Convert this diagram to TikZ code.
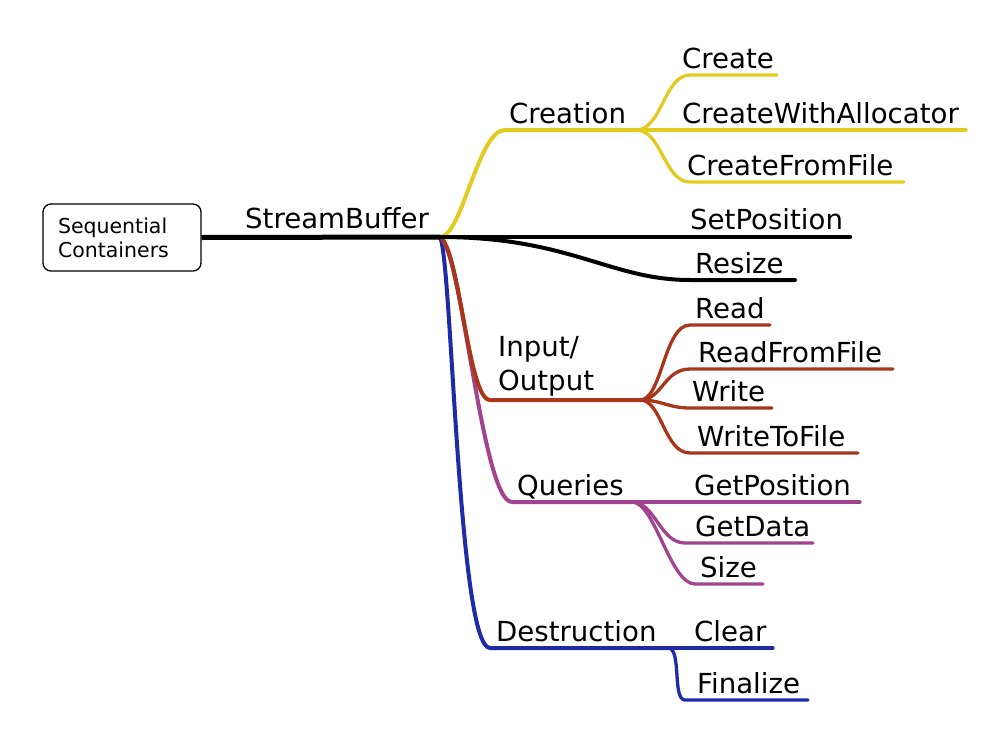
\documentclass[tikz,border=0pt]{standalone}
\usepackage{fontspec}
\setmainfont{DejaVu Sans}
\definecolor{cyel}{HTML}{E2CB1F}
\definecolor{corg}{HTML}{A8361A}
\definecolor{cpur}{HTML}{A3438F}
\definecolor{cblu}{HTML}{1E2AA6}
\begin{document}
\begin{tikzpicture}[x=1pt,y=-1pt,
  lbl/.style={anchor=base west, inner sep=0pt, font=\fontsize{27.6}{34}\selectfont},
  br/.style={line width=4pt, line cap=round},
  sub/.style={line width=3.3pt, line cap=round}]
\useasboundingbox (0,0) rectangle (1006,744);

% root box
\node[draw, rounded corners=8pt, line width=1.3pt, minimum height=67pt,
      text width=128pt, inner xsep=15pt, align=left,
      font=\fontsize{20.5}{24}\selectfont] (root) at (122,237.5) {Sequential\\Containers};

% coordinates
\coordinate (hub) at (440,237);
\coordinate (crS) at (505,130); \coordinate (crH) at (636,130);
\coordinate (c1S) at (690,75);  \coordinate (c1E) at (777,75);
\coordinate (c2E) at (966,130);
\coordinate (c3S) at (690,182); \coordinate (c3E) at (904,182);
\coordinate (spE) at (850,237);
\coordinate (rsS) at (690,280); \coordinate (rsE) at (795,280);
\coordinate (ioS) at (490,400); \coordinate (ioH) at (640,400);
\coordinate (r1S) at (690,325); \coordinate (r1E) at (770,325);
\coordinate (r2S) at (690,369); \coordinate (r2E) at (893,369);
\coordinate (w1S) at (690,408); \coordinate (w1E) at (772,408);
\coordinate (w2S) at (690,453); \coordinate (w2E) at (858,453);
\coordinate (qS) at (512,502);  \coordinate (qH) at (632,502);
\coordinate (gpE) at (860,502);
\coordinate (gdS) at (685,543); \coordinate (gdE) at (813,543);
\coordinate (szS) at (695,584); \coordinate (szE) at (763,584);
\coordinate (dS) at (490,648);  \coordinate (dH) at (668,648);
\coordinate (clE) at (773,648);
\coordinate (fnS) at (685,700); \coordinate (fnE) at (808,700);

% Destruction (blue)
\draw[br, cblu] (hub) .. controls (452,260) and (458,648) .. (dS) -- (dH);
\draw[sub, cblu] (dH) -- (clE);
\draw[sub, cblu] (dH) .. controls (682,648) and (672,700) .. (fnS) -- (fnE);

% Queries (purple)
\draw[br, cpur] (hub) .. controls (462,250) and (482,502) .. (qS) -- (qH);
\draw[sub, cpur] (qH) -- (gpE);
\draw[sub, cpur] (qH) .. controls (655,502) and (660,543) .. (gdS) -- (gdE);
\draw[sub, cpur] (qH) .. controls (655,502) and (670,584) .. (szS) -- (szE);

% Input/Output (orange)
\draw[br, corg] (hub) .. controls (460,250) and (468,400) .. (ioS) -- (ioH);
\draw[sub, corg] (ioH) .. controls (662,400) and (664,325) .. (r1S) -- (r1E);
\draw[sub, corg] (ioH) .. controls (662,400) and (664,369) .. (r2S) -- (r2E);
\draw[sub, corg] (ioH) .. controls (662,400) and (668,408) .. (w1S) -- (w1E);
\draw[sub, corg] (ioH) .. controls (662,400) and (664,453) .. (w2S) -- (w2E);

% Creation (yellow)
\draw[br, cyel] (hub) .. controls (462,237) and (478,130) .. (crS) -- (crH);
\draw[sub, cyel] (crH) .. controls (662,130) and (664,75) .. (c1S) -- (c1E);
\draw[sub, cyel] (crH) -- (c2E);
\draw[sub, cyel] (crH) .. controls (662,130) and (664,182) .. (c3S) -- (c3E);

% Black
\draw[line width=5pt] (root.east) -- (hub);
\draw[line width=4.5pt, line cap=round] (hub) -- (spE);
\draw[line width=4pt, line cap=round] (hub) .. controls (570,237) and (610,280) .. (rsS) -- (rsE);

% labels
\node[lbl] (sb)  at (245,228) {StreamBuffer};
\node[lbl] (cr)  at (509,123) {Creation};
\node[lbl] (c1)  at (682,68)  {Create};
\node[lbl] (c2)  at (682,123) {CreateWithAllocator};
\node[lbl] (c3)  at (687,175) {CreateFromFile};
\node[lbl] (sp)  at (690,229) {SetPosition};
\node[lbl] (rs)  at (695,273) {Resize};
\node[lbl, align=left] (io) at (498,390) {Input/\\Output};
\node[lbl] (r1)  at (695,318) {Read};
\node[lbl] (r2)  at (698,362) {ReadFromFile};
\node[lbl] (w1)  at (692,401) {Write};
\node[lbl] (w2)  at (697,446) {WriteToFile};
\node[lbl] (q)   at (517,495) {Queries};
\node[lbl] (gp)  at (694,495) {GetPosition};
\node[lbl] (gd)  at (695,536) {GetData};
\node[lbl] (sz)  at (700,577) {Size};
\node[lbl] (d)   at (496,641) {Destruction};
\node[lbl] (cl)  at (694,641) {Clear};
\node[lbl] (fn)  at (697,693) {Finalize};
\end{tikzpicture}
\end{document}
